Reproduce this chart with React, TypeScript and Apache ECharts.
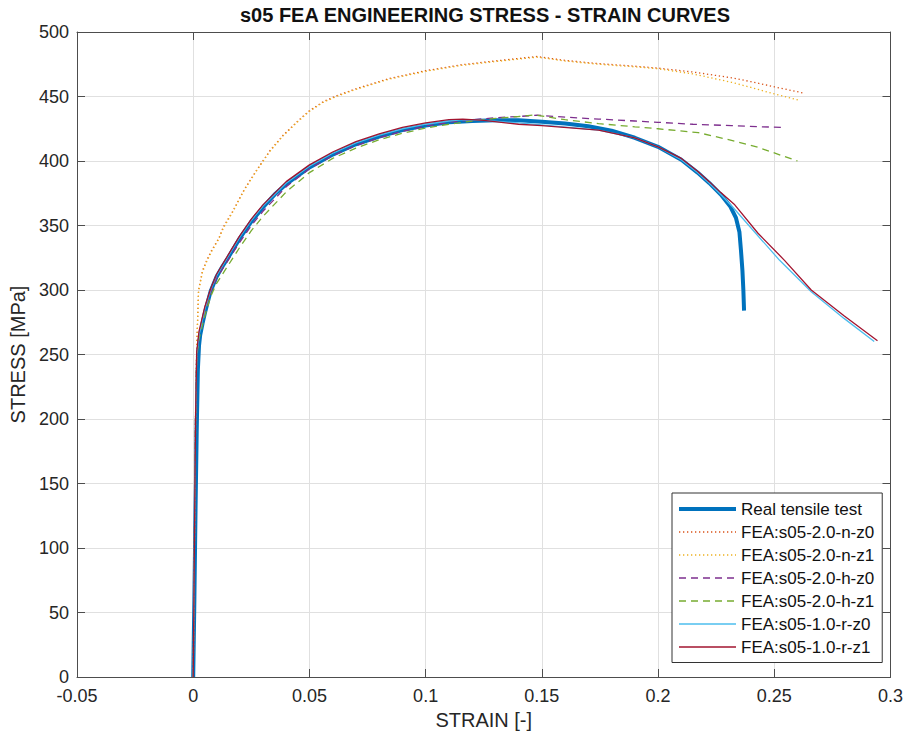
import React, { useEffect, useRef } from "react";
import * as echarts from "echarts";

const FONT = '"Liberation Sans", Arial, sans-serif';

const titleText = "s05 FEA ENGINEERING STRESS - STRAIN CURVES";
const xAxisName = "STRAIN [-]";
const yAxisName = "STRESS [MPa]";

const seriesNames = [
  "Real tensile test",
  "FEA:s05-2.0-n-z0",
  "FEA:s05-2.0-n-z1",
  "FEA:s05-2.0-h-z0",
  "FEA:s05-2.0-h-z1",
  "FEA:s05-1.0-r-z0",
  "FEA:s05-1.0-r-z1",
];

const seriesColors = ["#0072BD", "#D95319", "#EDB120", "#7E2F8E", "#77AC30", "#4DBEEE", "#A2142F"];

const realTest: number[][] = [
  [0, 0], [0.0005, 60], [0.001, 130], [0.0015, 190], [0.002, 238], [0.0025, 257], [0.003, 265],
  [0.004, 274], [0.005, 282], [0.006, 289], [0.0075, 299], [0.01, 310], [0.0125, 318], [0.015, 325],
  [0.02, 340], [0.025, 353], [0.03, 364], [0.035, 374], [0.04, 382], [0.05, 395], [0.06, 405],
  [0.07, 413], [0.08, 419], [0.09, 424], [0.1, 427.5], [0.11, 430], [0.12, 431], [0.13, 431.5],
  [0.14, 431.5], [0.15, 430.5], [0.16, 429], [0.17, 427], [0.18, 423.5], [0.19, 418], [0.2, 411],
  [0.21, 401], [0.217, 391], [0.222, 383], [0.227, 374], [0.231, 365], [0.2335, 356], [0.235, 345],
  [0.2357, 330], [0.2363, 315], [0.2367, 300], [0.237, 284],
];

const feaN_z0: number[][] = [
  [0, 0], [0.0006, 120], [0.0011, 220], [0.0016, 261], [0.0023, 300], [0.004, 315], [0.0058, 323],
  [0.008, 331], [0.011, 340], [0.013, 349], [0.017, 361], [0.022, 378], [0.0273, 393], [0.033, 408],
  [0.0387, 420], [0.045, 431], [0.05, 439], [0.056, 446], [0.0616, 450.5], [0.07, 456], [0.0844, 464],
  [0.1, 470], [0.115, 474.5], [0.127, 477], [0.14, 479.5], [0.148, 481], [0.16, 478], [0.1744, 475.5],
  [0.19, 473.5], [0.2, 472], [0.215, 469], [0.2316, 464.5], [0.24, 461.5], [0.25, 457.5], [0.263, 452.5],
];

const feaN_z1: number[][] = [
  [0, 0], [0.0006, 118], [0.0011, 218], [0.0016, 259], [0.0023, 299], [0.004, 314], [0.0058, 322],
  [0.008, 330], [0.011, 339.5], [0.013, 348], [0.017, 360.5], [0.022, 377.5], [0.0273, 392.5], [0.033, 407.5],
  [0.0387, 419.5], [0.045, 430.5], [0.05, 438.5], [0.056, 445.5], [0.0616, 450], [0.07, 455.5], [0.0844, 463.5],
  [0.1, 469.5], [0.115, 474], [0.127, 476.5], [0.14, 479], [0.148, 480.5], [0.16, 477.5], [0.1744, 475],
  [0.19, 473], [0.2, 471.5], [0.215, 467.5], [0.2316, 461], [0.24, 457], [0.25, 452], [0.261, 447],
];

const feaH_z0: number[][] = [
  [0, 0], [0.0005, 100], [0.001, 200], [0.0015, 250], [0.0025, 265], [0.005, 283], [0.0075, 298],
  [0.01, 309], [0.015, 323], [0.02, 337], [0.025, 350], [0.03, 361], [0.04, 380], [0.05, 394],
  [0.06, 404], [0.07, 412], [0.08, 418], [0.09, 423], [0.1, 427], [0.11, 430], [0.12, 432],
  [0.13, 433.5], [0.14, 434.5], [0.148, 435.5], [0.16, 434], [0.1744, 432.5], [0.19, 431], [0.2, 430],
  [0.215, 428.5], [0.2316, 427.4], [0.245, 426.5], [0.2544, 426],
];

const feaH_z1: number[][] = [
  [0, 0], [0.0005, 100], [0.001, 200], [0.0015, 248], [0.0025, 262], [0.005, 280], [0.0075, 295],
  [0.01, 305], [0.015, 319], [0.02, 333], [0.025, 346], [0.03, 357], [0.04, 376], [0.05, 391],
  [0.06, 402], [0.07, 410], [0.08, 416.5], [0.09, 421.5], [0.1, 425.5], [0.11, 428.5], [0.12, 431],
  [0.13, 433], [0.14, 434.5], [0.147, 435.7], [0.16, 432], [0.1744, 429], [0.19, 426.5], [0.2, 425],
  [0.2173, 422], [0.2316, 416], [0.243, 410.6], [0.252, 405], [0.26, 400],
];

const feaR_z0: number[][] = [
  [0, 0], [0.0005, 100], [0.001, 200], [0.0015, 250], [0.0025, 265], [0.005, 285], [0.0075, 300],
  [0.01, 311], [0.015, 326], [0.02, 341], [0.025, 354], [0.03, 365], [0.04, 383], [0.05, 396],
  [0.06, 406], [0.07, 414], [0.08, 420], [0.09, 425], [0.1, 428.5], [0.11, 431], [0.116, 432],
  [0.125, 431.5], [0.14, 429.5], [0.15, 428], [0.1744, 424], [0.19, 418], [0.2, 411], [0.21, 401],
  [0.217, 391], [0.222, 383], [0.227, 374], [0.232, 364.5], [0.242, 344], [0.2523, 323],
  [0.2659, 298.7], [0.28, 278], [0.293, 260],
];

const feaR_z1: number[][] = [
  [0, 0], [0.0005, 100], [0.001, 200], [0.0015, 252], [0.0025, 268], [0.005, 287], [0.0075, 301],
  [0.01, 312], [0.015, 327], [0.02, 342], [0.025, 355], [0.03, 366], [0.04, 384], [0.05, 397],
  [0.06, 407], [0.07, 415], [0.08, 421], [0.09, 426], [0.1, 429.5], [0.11, 432], [0.116, 432.5],
  [0.125, 431.5], [0.14, 428.5], [0.15, 427.5], [0.1744, 424], [0.19, 418], [0.2, 411], [0.21, 402],
  [0.217, 392], [0.222, 384], [0.227, 375.5], [0.233, 366], [0.243, 344], [0.2544, 323],
  [0.2659, 300], [0.28, 280], [0.2944, 260.7],
];

const seriesData = [realTest, feaN_z0, feaN_z1, feaH_z0, feaH_z1, feaR_z0, feaR_z1];

const xMin = -0.05;
const xMax = 0.3;
const xStep = 0.05;
const yMin = 0;
const yMax = 500;
const yStep = 50;

export default function App() {
  const ref = useRef<HTMLDivElement>(null);

  useEffect(() => {
    if (!ref.current) return;
    const chart = echarts.init(ref.current, null, { renderer: "svg" });

    const lineTypes: any[] = ["solid", [1.3, 2.7], [1.3, 2.7], [7, 5], [7, 5], "solid", "solid"];
    const lineWidths = [4, 1.3, 1.3, 1.3, 1.3, 1.3, 1.3];

    const fmt = (v: number) => String(Math.round(v * 100) / 100);
    const axisLineStyle = { color: "#4d4d4d", width: 1 };
    const tickStyle = { show: true, inside: true, length: 8, lineStyle: { color: "#4d4d4d", width: 1 } };

    const legendData = seriesNames.map((name, i) => ({
      name,
      lineStyle: { width: lineWidths[i], type: lineTypes[i], color: seriesColors[i] },
    }));

    const option: any = {
      animation: false,
      backgroundColor: "#ffffff",
      textStyle: { fontFamily: FONT },
      graphic: [
        {
          type: "text",
          x: 485,
          y: 5,
          style: {
            text: titleText,
            textAlign: "center",
            textVerticalAlign: "top",
            font: `bold 20px ${FONT}`,
            fill: "#111",
          },
        },
      ],
      grid: { left: 77, right: 13, top: 32, bottom: 60, containLabel: false },
      legend: {
        orient: "vertical",
        left: 672,
        top: 493,
        padding: [7.5, 8, 7, 5],
        itemWidth: 57,
        itemHeight: 14,
        itemGap: 6,
        backgroundColor: "#ffffff",
        borderColor: "#333333",
        borderWidth: 1,
        borderRadius: 0,
        itemStyle: { color: "rgba(0,0,0,0)", borderColor: "rgba(0,0,0,0)", borderWidth: 0, opacity: 0 },
        textStyle: { fontSize: 17, lineHeight: 17, color: "#111", fontFamily: FONT },
        data: legendData,
      },
      xAxis: [
        {
          type: "value",
          min: xMin,
          max: xMax,
          interval: xStep,
          position: "bottom",
          name: xAxisName,
          nameLocation: "middle",
          nameGap: 26,
          nameTextStyle: { fontSize: 20, color: "#262626", fontFamily: FONT },
          axisLine: { show: true, onZero: false, lineStyle: axisLineStyle },
          axisTick: tickStyle,
          axisLabel: { fontSize: 18, color: "#262626", margin: 10, formatter: fmt, fontFamily: FONT },
          splitLine: { show: true, lineStyle: { color: "#e0e0e0", width: 1 } },
        },
        {
          type: "value",
          min: xMin,
          max: xMax,
          interval: xStep,
          position: "top",
          axisLine: { show: true, onZero: false, lineStyle: axisLineStyle },
          axisTick: tickStyle,
          axisLabel: { show: false },
          splitLine: { show: false },
        },
      ],
      yAxis: [
        {
          type: "value",
          min: yMin,
          max: yMax,
          interval: yStep,
          position: "left",
          name: yAxisName,
          nameLocation: "middle",
          nameGap: 44,
          nameTextStyle: { fontSize: 20, color: "#262626", fontFamily: FONT },
          axisLine: { show: true, onZero: false, lineStyle: axisLineStyle },
          axisTick: tickStyle,
          axisLabel: { fontSize: 18, color: "#262626", margin: 8, fontFamily: FONT },
          splitLine: { show: true, lineStyle: { color: "#e0e0e0", width: 1 } },
        },
        {
          type: "value",
          min: yMin,
          max: yMax,
          interval: yStep,
          position: "right",
          axisLine: { show: true, onZero: false, lineStyle: axisLineStyle },
          axisTick: tickStyle,
          axisLabel: { show: false },
          splitLine: { show: false },
        },
      ],
      series: seriesNames.map((name, i) => ({
        name,
        type: "line",
        xAxisIndex: 0,
        yAxisIndex: 0,
        data: seriesData[i],
        symbol: "none",
        showSymbol: false,
        smooth: false,
        clip: true,
        color: seriesColors[i],
        lineStyle: {
          color: seriesColors[i],
          width: lineWidths[i],
          type: lineTypes[i],
          cap: "butt",
        },
        emphasis: { disabled: true },
      })),
    };

    chart.setOption(option);
    return () => chart.dispose();
  }, []);

  return (
    <div
      ref={ref}
      style={{ position: "fixed", left: 0, top: 0, width: 906, height: 737, background: "#fff" }}
    />
  );
}
